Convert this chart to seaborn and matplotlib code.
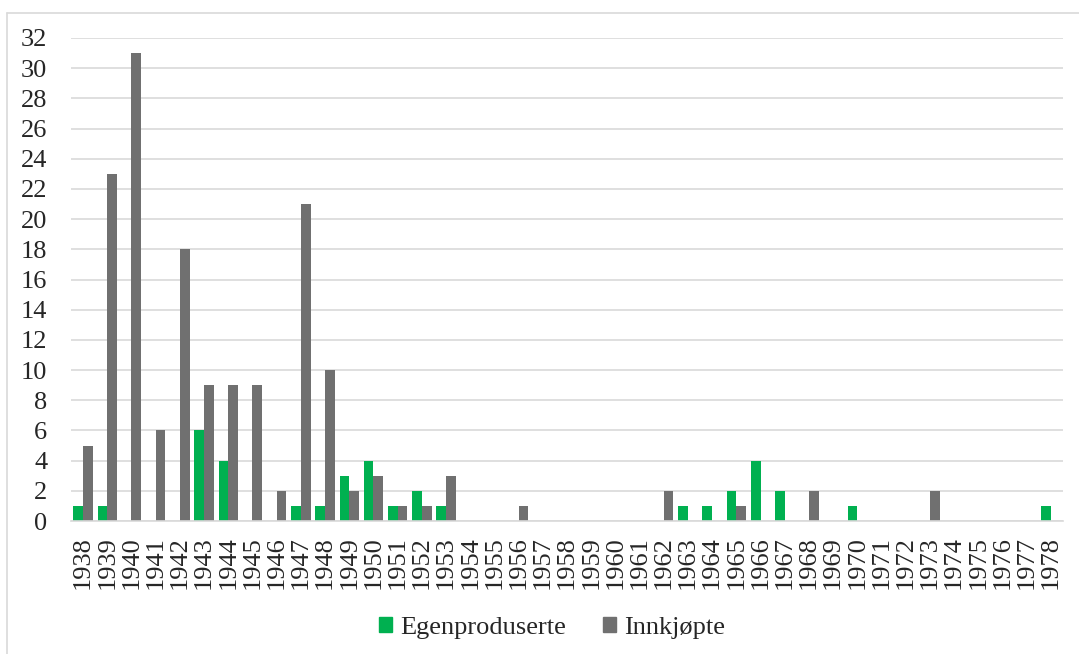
import pandas as pd
import seaborn as sns
import matplotlib.pyplot as plt
from matplotlib.lines import Line2D

years = list(range(1938, 1979))
egen = [1, 1, 0, 0, 0, 6, 4, 0, 0, 1, 1, 3, 4, 1, 2, 1, 0, 0, 0, 0,
        0, 0, 0, 0, 0, 1, 1, 2, 4, 2, 0, 0, 1, 0, 0, 0, 0, 0, 0, 0, 1]
innkj = [5, 23, 31, 6, 18, 9, 9, 9, 2, 21, 10, 2, 3, 1, 1, 3, 0, 0, 1, 0,
         0, 0, 0, 0, 2, 0, 0, 1, 0, 0, 2, 0, 0, 0, 0, 2, 0, 0, 0, 0, 0]
series = ['Egenproduserte', 'Innkjøpte']
colors = ['#00B050', '#707070']


def main():
    df = pd.DataFrame({
        'år': [str(y) for y in years] * 2,
        'antall': egen + innkj,
        'type': [series[0]] * len(years) + [series[1]] * len(years),
    })

    sns.set_style('white')
    plt.rcParams['font.family'] = ['Liberation Serif', 'DejaVu Serif']

    fig = plt.figure(figsize=(10.79, 6.54), dpi=100)
    ax = fig.add_axes([71 / 1079, 1 - 521 / 654, (1063 - 71) / 1079, (521 - 38) / 654])
    sns.barplot(data=df, x='år', y='antall', hue='type', palette=colors,
                width=0.8, gap=0, linewidth=0, saturation=1, ax=ax)

    ax.set_xlim(-0.5, len(years) - 0.5)
    ax.set_ylim(0, 32)
    ax.set_yticks(range(0, 33, 2))
    ax.set_xlabel('')
    ax.set_ylabel('')
    ax.grid(axis='y', color='#D9D9D9', linewidth=1.2)
    ax.set_axisbelow(True)
    for side in ['top', 'right', 'left']:
        ax.spines[side].set_visible(False)
    ax.spines['bottom'].set_color('#D9D9D9')
    ax.spines['bottom'].set_linewidth(1.2)
    ax.tick_params(axis='y', length=0, pad=17, labelsize=19)
    ax.tick_params(axis='x', length=0, pad=11, labelsize=19, rotation=90)

    ax.get_legend().remove()
    handles = [plt.Rectangle((0, 0), 1, 1, color=c) for c in colors]
    fig.legend(handles, series, loc='center', bbox_to_anchor=(552 / 1079, 1 - 628 / 654),
               ncol=2, frameon=False, fontsize=19, handlelength=0.5, handleheight=0.5,
               handletextpad=0.3, columnspacing=1.4)

    # chart area border
    fig.add_artist(Line2D([7 / 1079, 7 / 1079], [0, 1 - 13 / 654], color='#D9D9D9', lw=1.2))
    fig.add_artist(Line2D([7 / 1079, 1], [1 - 13 / 654, 1 - 13 / 654], color='#D9D9D9', lw=1.2))

    fig.savefig('out.png', dpi=100)


if __name__ == '__main__':
    main()
